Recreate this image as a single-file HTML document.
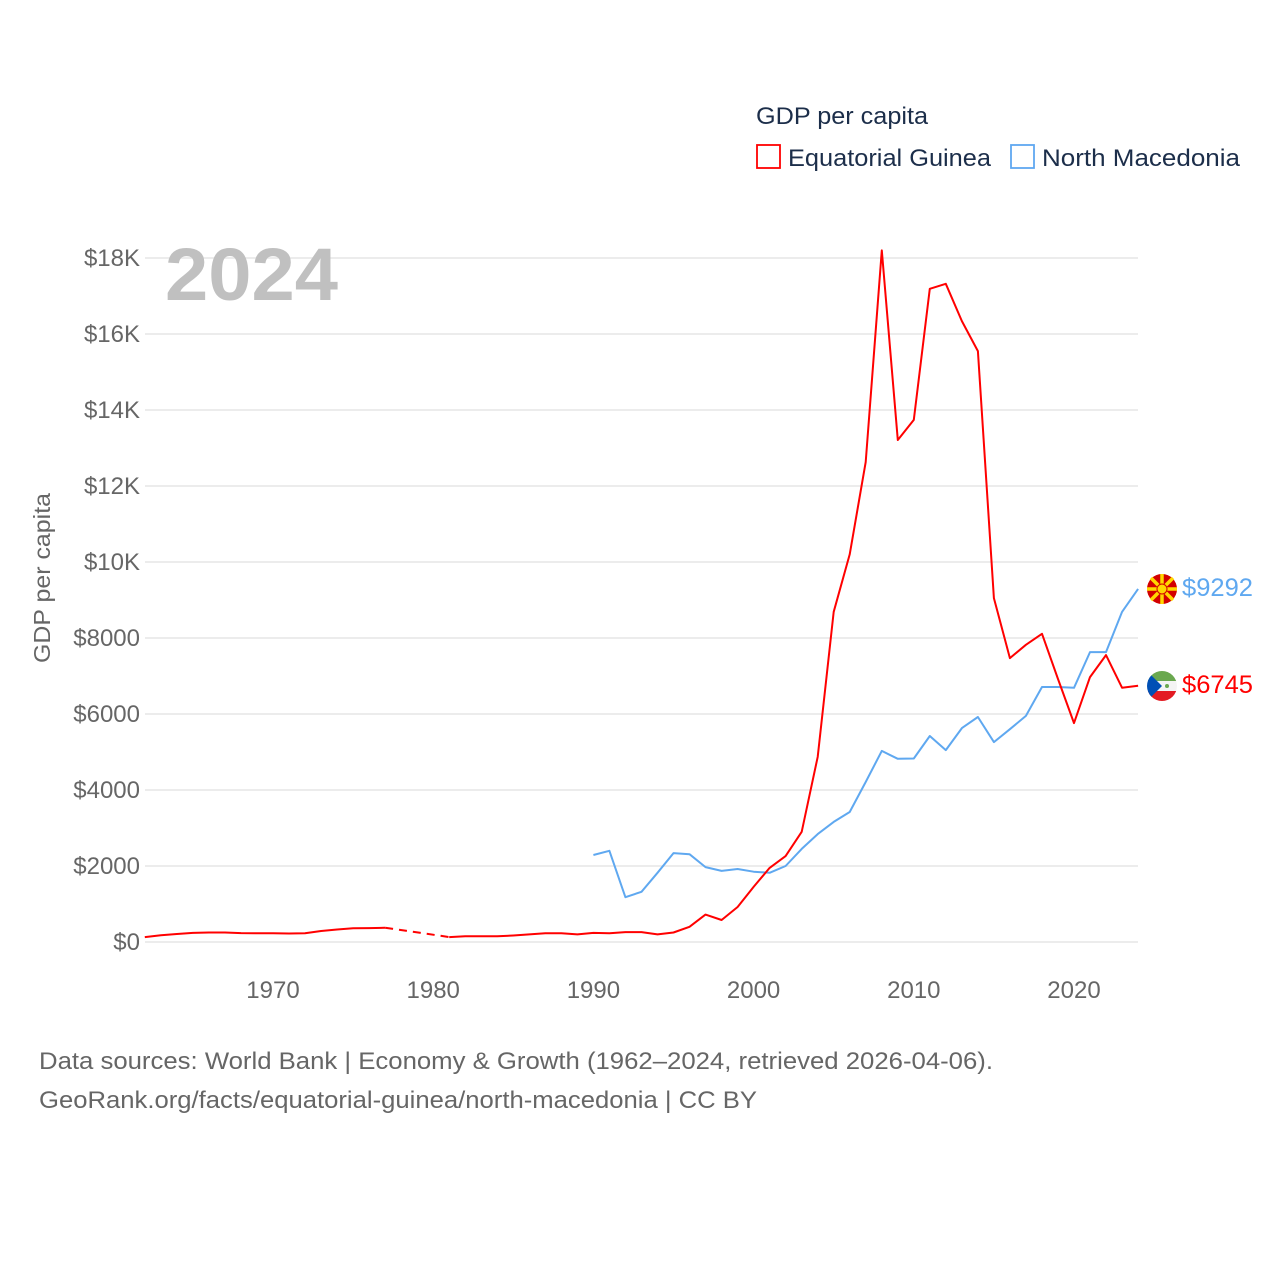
<!DOCTYPE html>
<html><head><meta charset="utf-8"><style>
body{margin:0;background:#fff;}
svg{display:block;font-family:"Liberation Sans",sans-serif;}
</style></head><body>
<svg id="chart" width="1280" height="1280" viewBox="0 0 1280 1280" xmlns="http://www.w3.org/2000/svg">
<rect width="1280" height="1280" fill="#fff"/>
<g id="grid"></g>
<g id="yticks"></g>
<g id="xticks"></g>
<text x="165" y="300" font-size="74" font-weight="bold" fill="#c0c0c0" textLength="173" lengthAdjust="spacingAndGlyphs">2024</text>
<text transform="translate(50,578) rotate(-90)" text-anchor="middle" font-size="23" fill="#666" textLength="170" lengthAdjust="spacingAndGlyphs">GDP per capita</text>
<g>
<text x="756" y="124" font-size="24" fill="#1c2e4a" textLength="172" lengthAdjust="spacingAndGlyphs">GDP per capita</text>
<rect x="757" y="145" width="23" height="23" fill="none" stroke="#f00" stroke-width="1.8"/>
<text x="788" y="166" font-size="24" fill="#1c2e4a" textLength="203" lengthAdjust="spacingAndGlyphs">Equatorial Guinea</text>
<rect x="1011" y="145" width="23" height="23" fill="none" stroke="#5fa8f0" stroke-width="1.8"/>
<text x="1042" y="166" font-size="24" fill="#1c2e4a" textLength="198" lengthAdjust="spacingAndGlyphs">North Macedonia</text>
</g>
<g id="lines"></g>
<g>
<circle cx="1162" cy="589" r="15" fill="#d20000"/>
<g stroke="#ffd700" stroke-width="3.5">
<line x1="1147" y1="589" x2="1177" y2="589"/><line x1="1162" y1="574" x2="1162" y2="604"/>
<line x1="1151" y1="578" x2="1173" y2="600"/><line x1="1173" y1="578" x2="1151" y2="600"/>
</g>
<circle cx="1162" cy="589" r="5" fill="#ffd700" stroke="#d20000" stroke-width="1"/>
</g>
<g>
<clipPath id="cg"><circle cx="1162" cy="686" r="15"/></clipPath>
<g clip-path="url(#cg)">
<rect x="1147" y="671" width="30" height="10" fill="#6aa84f"/>
<rect x="1147" y="681" width="30" height="10" fill="#f4f4f4"/>
<rect x="1147" y="691" width="30" height="10" fill="#e31b23"/>
<polygon points="1147,671 1162,686 1147,701" fill="#0050b5"/>
<circle cx="1167" cy="686" r="2" fill="#6aa84f"/>
</g>
</g>
<text x="1182" y="596" font-size="25" fill="#5fa8f0" textLength="71" lengthAdjust="spacingAndGlyphs">$9292</text>
<text x="1182" y="693" font-size="25" fill="#f00" textLength="71" lengthAdjust="spacingAndGlyphs">$6745</text>
<text x="39" y="1069" font-size="24" fill="#666" textLength="954" lengthAdjust="spacingAndGlyphs">Data sources: World Bank | Economy &amp; Growth (1962–2024, retrieved 2026-04-06).</text>
<text x="39" y="1108" font-size="24" fill="#666" textLength="718" lengthAdjust="spacingAndGlyphs">GeoRank.org/facts/equatorial-guinea/north-macedonia | CC BY</text>
</svg>
<script>
const yTicks=[0,2000,4000,6000,8000,10000,12000,14000,16000,18000];
const yTickLabels=["$0","$2000","$4000","$6000","$8000","$10K","$12K","$14K","$16K","$18K"];
const xTicks=[1970,1980,1990,2000,2010,2020];
const gqYears=[1962,1963,1964,1965,1966,1967,1968,1969,1970,1971,1972,1973,1974,1975,1976,1977,1981,1982,1983,1984,1985,1986,1987,1988,1989,1990,1991,1992,1993,1994,1995,1996,1997,1998,1999,2000,2001,2002,2003,2004,2005,2006,2007,2008,2009,2010,2011,2012,2013,2014,2015,2016,2017,2018,2019,2020,2021,2022,2023,2024];
const gqValues=[130,180,210,240,250,250,235,230,230,225,230,290,330,360,365,375,130,150,150,150,170,200,230,230,200,240,230,260,260,200,250,400,720,580,920,1450,1950,2260,2900,4870,8690,10200,12630,18200,13210,13740,17190,17320,16340,15550,9050,7470,7820,8110,6920,5760,6970,7550,6690,6745];
const mkYears=[1990,1991,1992,1993,1994,1995,1996,1997,1998,1999,2000,2001,2002,2003,2004,2005,2006,2007,2008,2009,2010,2011,2012,2013,2014,2015,2016,2017,2018,2019,2020,2021,2022,2023,2024];
const mkValues=[2290,2400,1180,1320,1820,2340,2310,1970,1870,1920,1850,1820,2000,2450,2840,3160,3420,4210,5030,4820,4830,5420,5050,5630,5920,5260,5600,5950,6710,6710,6690,7630,7630,8690,9292];
const NS="http://www.w3.org/2000/svg";
const x=yr=>273+(yr-1970)*16.02;
const y=v=>942-v*76/2000;
function el(tag,attrs,parent){const e=document.createElementNS(NS,tag);for(const k in attrs)e.setAttribute(k,attrs[k]);parent.appendChild(e);return e;}
const grid=document.getElementById('grid'),yt=document.getElementById('yticks'),xt=document.getElementById('xticks'),lines=document.getElementById('lines');
yTicks.forEach((v,i)=>{
 const l=el('line',{x1:145,x2:1138,y1:y(v),y2:y(v),stroke:'#e6e6e6','stroke-width':1.5},grid);
 
 
 const t=el('text',{x:140,y:y(v)+8,'text-anchor':'end','font-size':24,fill:'#666'},yt);
 t.textContent=yTickLabels[i];
 
 
});
xTicks.forEach(yr=>{
 const t=el('text',{x:x(yr),y:998,'text-anchor':'middle','font-size':24,fill:'#666'},xt);
 t.textContent=yr;
 
 
});
function drawSeries(years,vals,color,name){
 let segs=[[]];
 for(let i=0;i<years.length;i++){
  if(i>0&&years[i]-years[i-1]>1){
   const d=el('line',{x1:x(years[i-1]),y1:y(vals[i-1]),x2:x(years[i]),y2:y(vals[i]),stroke:color,'stroke-width':2,'stroke-dasharray':'8,6'},lines);
   
   
   segs.push([]);
  }
  segs[segs.length-1].push(x(years[i]).toFixed(1)+','+y(vals[i]).toFixed(1));
 }
 segs.forEach(s=>{
  const p=el('polyline',{points:s.join(' '),fill:'none',stroke:color,'stroke-width':2,'stroke-linejoin':'round'},lines);
  
  
 });
}
drawSeries(mkYears,mkValues,'#5fa8f0','north-macedonia');
drawSeries(gqYears,gqValues,'#ff0000','equatorial-guinea');
</script>
</body></html>
